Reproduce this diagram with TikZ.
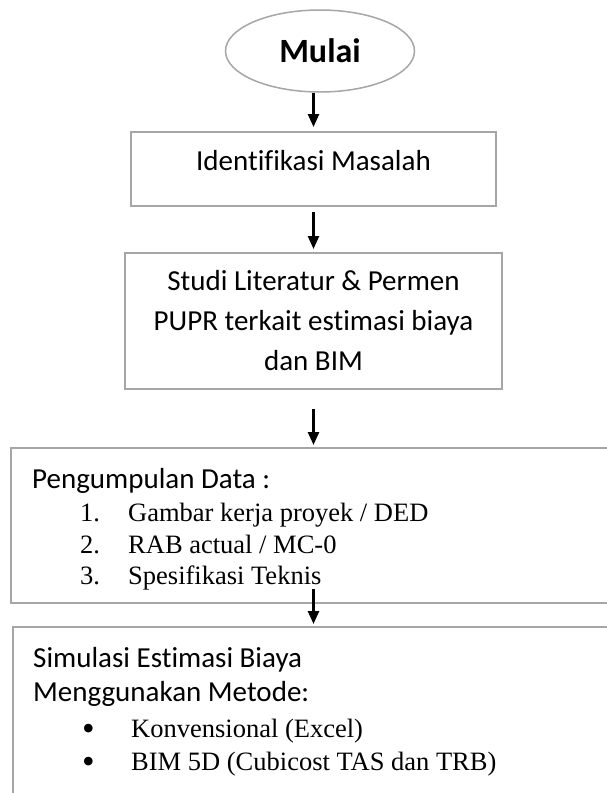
\documentclass[tikz,border=0pt]{standalone}
\usepackage{fontspec}
\setmainfont[Ligatures=NoCommon]{Liberation Serif}
\newfontfamily\calibri[Ligatures=NoCommon]{Carlito}
\usetikzlibrary{shapes.geometric,arrows.meta}

\definecolor{boxgray}{RGB}{166,166,166}

\tikzset{
  box/.style={draw=boxgray, line width=2pt, rectangle, inner sep=0pt},
  flow/.style={-{Triangle[width=11pt,length=13pt]}, line width=2.5pt, black},
  sans/.style={font=\calibri\fontsize{29}{40}\selectfont},
  serif/.style={font=\fontsize{26.5}{31}\selectfont},
  bullet/.style={font=\fontsize{36}{31}\selectfont},
}

\begin{document}
\begin{tikzpicture}[x=1pt, y=-1pt]
      \useasboundingbox (0,0) rectangle (606,793);

      % Define coordinates
      \coordinate (start_c) at (320,51);
      \coordinate (ident_c) at (313.5,169);
      \coordinate (studi_c) at (313.5,321);
      \coordinate (data_c) at (315.5,525.5);
      \coordinate (sim_c) at (317,721);

      % Start oval
      \node[draw=boxgray, line width=1.5pt, ellipse, minimum width=189pt, minimum height=82pt,
            font=\calibri\bfseries\fontsize{34}{40}\selectfont] (start) at (start_c) {Mulai};

      % Boxes
      \node[box, sans, text depth=17pt, minimum width=365pt, minimum height=74pt] (ident) at (ident_c) {Identifikasi Masalah};
      \node[box, sans, align=center, minimum width=377pt, minimum height=136pt] (studi) at (studi_c)
            {Studi Literatur \& Permen\\PUPR terkait estimasi biaya\\dan BIM};
      % the last two boxes run past the right edge
      \node[box, minimum width=609pt, minimum height=155pt] (data) at (data_c) {};
      \node[box, minimum width=608pt, minimum height=188pt] (sim) at (sim_c) {};

      % Text of the data box
      \node[sans, anchor=base west, inner sep=0pt] (data_head) at (32,488) {Pengumpulan Data :};
      \node[serif, anchor=base west, inner sep=0pt] (num_a) at (80,521) {1.};
      \node[serif, anchor=base west, inner sep=0pt] (item_a) at (128,521) {Gambar kerja proyek / DED};
      \node[serif, anchor=base west, inner sep=0pt] (num_b) at (80,553) {2.};
      \node[serif, anchor=base west, inner sep=0pt] (item_b) at (128,553) {RAB actual / MC-0};
      \node[serif, anchor=base west, inner sep=0pt] (num_c) at (80,584) {3.};
      \node[serif, anchor=base west, inner sep=0pt] (item_c) at (128,584) {Spesifikasi Teknis};

      % Text of the simulation box
      \node[sans, anchor=base west, inner sep=0pt] (sim_head) at (33,667) {Simulasi Estimasi Biaya};
      \node[sans, anchor=base west, inner sep=0pt] (sim_sub) at (33,701) {Menggunakan Metode:};
      \node[bullet, anchor=base west, inner sep=0pt] (dot_a) at (82,740) {•};
      \node[serif, anchor=base west, inner sep=0pt] (meth_a) at (131,737) {Konvensional (Excel)};
      \node[bullet, anchor=base west, inner sep=0pt] (dot_b) at (82,773) {•};
      \node[serif, anchor=base west, inner sep=0pt] (meth_b) at (131,770) {BIM 5D (Cubicost TAS dan TRB)};

      % Draw arrows between the steps
      \draw[flow, shorten >=4pt] (start.south -| ident.north) -- (ident.north);
      \draw[flow, shorten <=5pt, shorten >=3pt] (ident) -- (studi);
      \draw[flow, shorten <=19pt, shorten >=2pt] (studi.south) -- (studi.south |- data.north);
      \draw[flow, xshift=4pt, shorten >=2pt] ([yshift=15pt]studi.south |- data.south) -- (studi.south |- sim.north);
    \end{tikzpicture}
\end{document}
